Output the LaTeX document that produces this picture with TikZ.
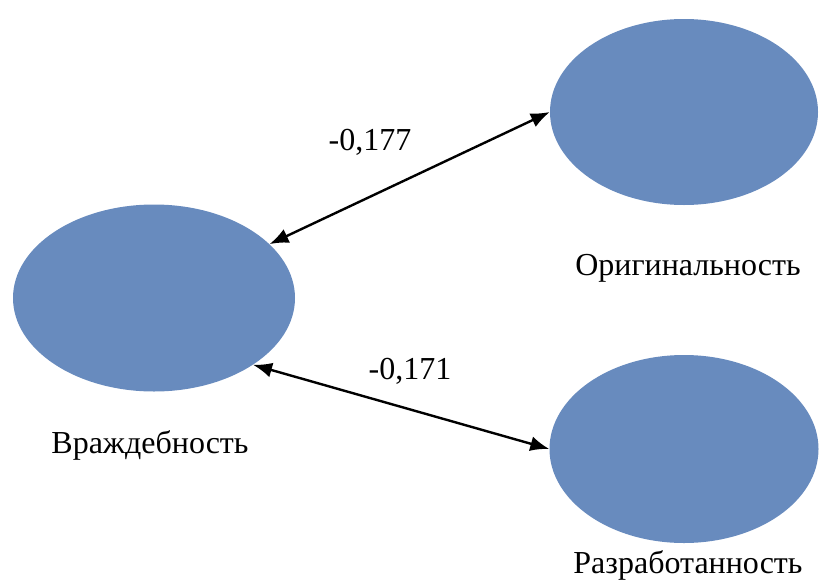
\documentclass[tikz,border=0pt]{standalone}
\usepackage{fontspec}
\setmainfont{Liberation Serif}
\usetikzlibrary{shapes.geometric,arrows.meta}
\definecolor{ellblue}{RGB}{104,139,190}
\begin{document}
\begin{tikzpicture}[x=1pt,y=-1pt,
  factor/.style={ellipse,fill=ellblue,draw=none,inner sep=0pt},
  lbl/.style={font=\fontsize{32}{36}\selectfont,text=black,inner sep=0pt},
  link/.style={{Latex[length=19pt,width=15pt]}-{Latex[length=19pt,width=15pt]},line width=2.4pt,black}]
\useasboundingbox (0,0) rectangle (819,581);
\node[factor,minimum width=282pt,minimum height=187pt] (L) at (154,298) {};
\node[factor,minimum width=268pt,minimum height=186pt] (TR) at (684,112) {};
\node[factor,minimum width=269pt,minimum height=188pt] (BR) at (684,449) {};
\node[lbl] (tL) at (150,445) {Враждебность};
\node[lbl] (tTR) at (688,268) {Оригинальность};
\node[lbl] (tBR) at (688,565) {Разработанность};
\node[lbl] (v1) at (370,142) {-0,177};
\node[lbl] (v2) at (410,371) {-0,171};
\draw[link] (L.25) -- (TR.west);
\draw[link] (L.-34) -- (BR.west);
\end{tikzpicture}
\end{document}
